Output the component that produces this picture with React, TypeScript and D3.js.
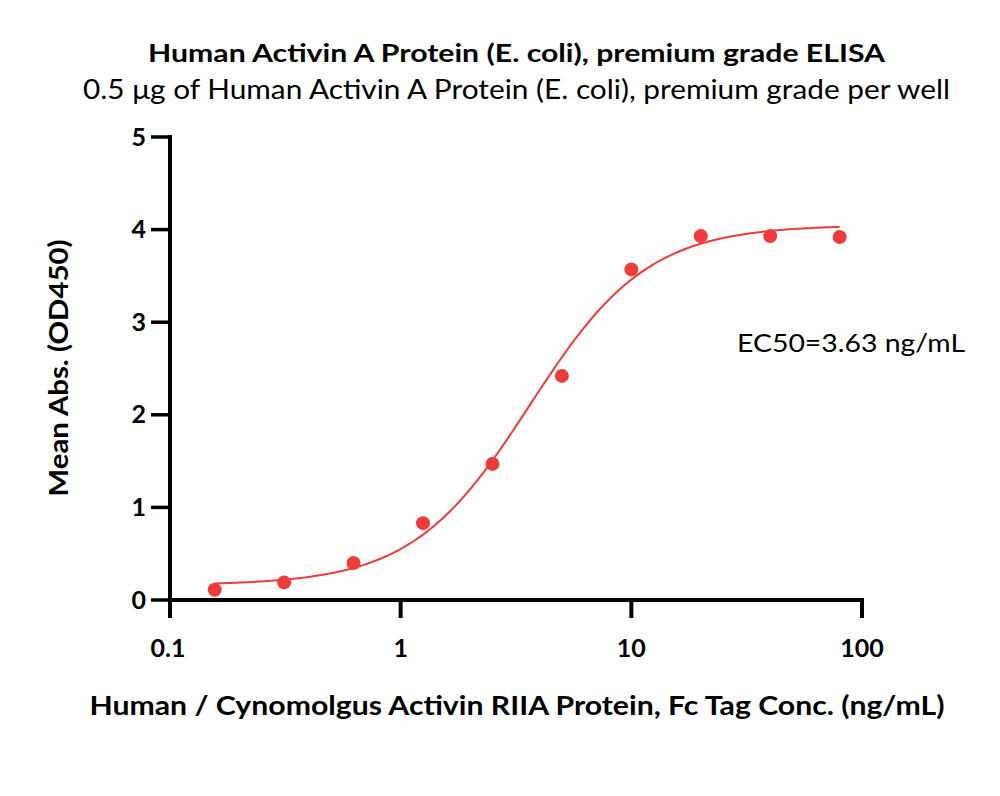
import React from "react";
import * as d3 from "d3";

const concentrations = [0.15625, 0.3125, 0.625, 1.25, 2.5, 5, 10, 20, 40, 80];
const meanAbs = [0.11, 0.19, 0.4, 0.83, 1.47, 2.42, 3.57, 3.93, 3.93, 3.92];
// 4PL fit parameters (from the chart's EC50 label and curve shape)
const fitBottom = [0.16];
const fitTop = [4.05];
const fitEC50 = [3.63];
const fitHill = [1.7];
const xTicks = [0.1, 1, 10, 100];
const xTickLabels = ["0.1", "1", "10", "100"];
const yTicks = [0, 1, 2, 3, 4, 5];

const W = 1000;
const H = 796;
const FONT = "Lato, 'Open Sans', 'DejaVu Sans', sans-serif";
const RED = "#EE3B3B";

export default function App() {
  const x = d3.scaleLog().domain([0.1, 100]).range([170, 862]);
  const y = d3.scaleLinear().domain([0, 5]).range([600, 137]);

  const B = fitBottom[0], T = fitTop[0], E = fitEC50[0], h = fitHill[0];
  const f = (c: number) => B + (T - B) / (1 + Math.pow(E / c, h));
  const lo = Math.log10(concentrations[0]);
  const hi = Math.log10(concentrations[concentrations.length - 1]);
  const curvePts: [number, number][] = d3.range(0, 201).map((i) => {
    const c = Math.pow(10, lo + ((hi - lo) * i) / 200);
    return [x(c), y(f(c))];
  });
  const line = d3.line().curve(d3.curveLinear)(curvePts) || "";

  return (
    <svg width={W} height={H} style={{ position: "absolute", left: 0, top: 0, background: "#fff" }}>
      <rect width={W} height={H} fill="#fff" />
      <text x={516.5} y={61.5} textAnchor="middle" fontFamily={FONT} fontWeight="bold" fontSize={25.5}
        textLength={737} lengthAdjust="spacingAndGlyphs">
        Human Activin A Protein (E. coli), premium grade ELISA
      </text>
      <text x={516.5} y={99} textAnchor="middle" fontFamily={FONT} fontSize={27}
        textLength={867} lengthAdjust="spacingAndGlyphs">
        0.5 μg of Human Activin A Protein (E. coli), premium grade per well
      </text>

      {/* axes */}
      <line x1={170} x2={170} y1={135} y2={618} stroke="#000" strokeWidth={4} />
      <line x1={168} x2={864} y1={600} y2={600} stroke="#000" strokeWidth={4} />
      {yTicks.map((t) => (
        <g key={"y" + t}>
          <line x1={151} x2={170} y1={y(t)} y2={y(t)} stroke="#000" strokeWidth={3.5} />
          <text x={146} y={y(t) + 8.5} textAnchor="end" fontFamily={FONT} fontWeight="bold" fontSize={25}>
            {t}
          </text>
        </g>
      ))}
      {xTicks.map((t, i) => (
        <g key={"x" + t}>
          <line x1={x(t)} x2={x(t)} y1={600} y2={618} stroke="#000" strokeWidth={4} />
          <text x={x(t) - (i === 0 ? 2 : 0)} y={657} textAnchor="middle" fontFamily={FONT} fontWeight="bold" fontSize={25}>
            {xTickLabels[i]}
          </text>
        </g>
      ))}

      {/* curve */}
      <path d={line} fill="none" stroke={RED} strokeWidth={2} />
      {concentrations.map((c, i) => (
        <circle key={"p" + i} cx={x(c)} cy={y(meanAbs[i])} r={7} fill={RED} />
      ))}

      <text x={737} y={352} fontFamily={FONT} fontSize={25} textLength={228} lengthAdjust="spacingAndGlyphs">
        EC50=3.63 ng/mL
      </text>

      <text x={517} y={715} textAnchor="middle" fontFamily={FONT} fontWeight="bold" fontSize={26}
        textLength={855} lengthAdjust="spacingAndGlyphs">
        Human / Cynomolgus Activin RIIA Protein, Fc Tag Conc. (ng/mL)
      </text>
      <text transform="translate(68,368) rotate(-90)" textAnchor="middle" fontFamily={FONT} fontWeight="bold" fontSize={26}
        textLength={257} lengthAdjust="spacingAndGlyphs">
        Mean Abs. (OD450)
      </text>
    </svg>
  );
}
